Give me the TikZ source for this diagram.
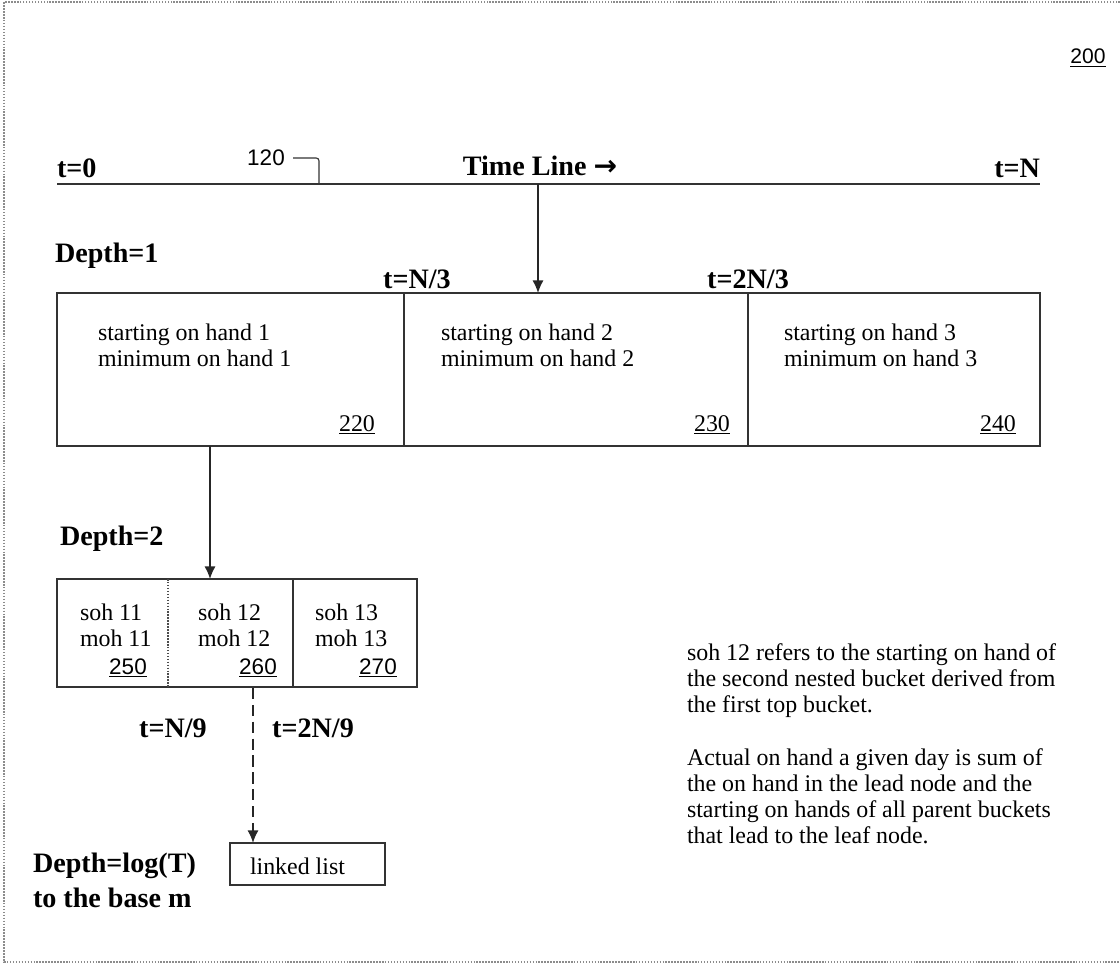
\documentclass[tikz,border=0pt]{standalone}
\usepackage{fontspec}
\setmainfont{Liberation Serif}
\setsansfont{Liberation Sans}
\newfontfamily\arrowfont{DejaVu Sans}
\usetikzlibrary{arrows.meta}

\begin{document}
\begin{tikzpicture}[
    x=0.025cm, y=-0.025cm,
    line width=1.1pt,
    every node/.style={inner sep=0pt, outer sep=0pt},
    body/.style={font=\fontsize{17}{18.5}\selectfont, align=left},
    bold/.style={font=\fontsize{20}{25}\selectfont\bfseries, align=left},
    refnum/.style={font=\fontsize{17}{18}\selectfont},
    sansnum/.style={font=\sffamily\fontsize{16}{18}\selectfont},
    cell/.style={draw=black!80, anchor=north west, minimum height=3.825cm},
    subcell/.style={anchor=north west, minimum height=2.7cm},
    arr/.style={-{Latex[length=9pt,width=8pt]}, draw=black!85},
  ]
  \useasboundingbox (0,0) rectangle (1120,970);

  % --- page frame ---
  \draw[black!45, densely dotted] (1120,2) -- (4,2) -- (4,962) -- (1120,962);
  \node[sansnum, font=\sffamily\fontsize{15}{16}\selectfont] (n200) at (1088,58) {\underline{200}};

  % --- time line ---
  \coordinate (tl0) at (57,184);
  \coordinate (tlN) at (1040,184);
  \coordinate (tlarr) at (538,184);
  \coordinate (hook) at (319,184);
  \draw[black!80] (tl0) -- (tlN);
  \node[bold, anchor=west] (t0) at (57,168) {t=0};
  \node[bold, anchor=east] (tN) at (1040,168) {t=N};
  \node[bold] (tline) at (540,166) {Time Line {\arrowfont →}};
  \node[sansnum] (n120) at (266,158) {120};
  \draw[black!80, line width=0.8pt, rounded corners=2pt] ([xshift=6pt]n120.east) -| (hook);

  % --- depth 1 ---
  \node[bold, anchor=west] (d1) at (55,256) {Depth=1};
  \node[cell, minimum width=8.675cm] (b220) at (57,293) {};
  \node[cell, minimum width=8.6cm] (b230) at (404,293) {};
  \node[cell, minimum width=7.3cm] (b240) at (748,293) {};
  \node[bold] (tn3) at (417,279) {t=N/3};
  \node[bold] (t2n3) at (748,279) {t=2N/3};
  \node[body, anchor=west] (s1) at (98,345) {starting on hand 1\\minimum on hand 1};
  \node[body, anchor=west] (s2) at (441,345) {starting on hand 2\\minimum on hand 2};
  \node[body, anchor=west] (s3) at (784,345) {starting on hand 3\\minimum on hand 3};
  \node[refnum] (r220) at (357,425) {\underline{220}};
  \node[refnum] (r230) at (712,425) {\underline{230}};
  \node[refnum] (r240) at (998,425) {\underline{240}};
  \draw[arr] (tlarr) -- (tlarr |- b230.north);

  % --- depth 2 ---
  \node[bold, anchor=west] (d2) at (60,539) {Depth=2};
  \node[subcell, minimum width=2.775cm] (b250) at (57,579) {};
  \node[subcell, minimum width=3.125cm] (b260) at (168,579) {};
  \node[subcell, minimum width=3.1cm] (b270) at (293,579) {};
  \draw[black!80] (b250.north west) rectangle (b270.south east);
  \draw[black!70, densely dotted] (b260.north west) -- (b260.south west);
  \draw[black!80] (b270.north west) -- (b270.south west);
  \node[body, anchor=west] (s11) at (80,625) {soh 11\\moh 11};
  \node[body, anchor=west] (s12) at (198,625) {soh 12\\moh 12};
  \node[body, anchor=west] (s13) at (315,625) {soh 13\\moh 13};
  \node[sansnum] (r250) at (128,668) {\underline{250}};
  \node[sansnum] (r260) at (258,668) {\underline{260}};
  \node[sansnum] (r270) at (378,668) {\underline{270}};
  \coordinate (a1) at (210,446);
  \draw[arr] (a1) -- (a1 |- b260.north);

  % --- leaf level ---
  \node[bold] (tn9) at (173,728) {t=N/9};
  \node[bold] (t2n9) at (313,728) {t=2N/9};
  \node[draw=black!80, anchor=north west, minimum width=3.875cm, minimum height=1.05cm] (ll) at (230,843) {};
  \node[body, anchor=west] (lltxt) at (250,866) {linked list};
  \node[bold, anchor=west] (dlog) at (33,880) {Depth=log(T)\\to the base m};
  \coordinate (a2) at (253,688);
  \draw[arr, line width=1.4pt, dash pattern=on 8pt off 4pt] (a2) -- (a2 |- ll.north);

  % --- notes ---
  \node[body, anchor=west] (note1) at (687,681) {soh 12 refers to the starting on hand of\\the second nested bucket derived from\\the first top bucket.};
  \node[body, anchor=west] (note2) at (687,796) {Actual on hand a given day is sum of\\the on hand in the lead node and the\\starting on hands of all parent buckets\\that lead to the leaf node.};
\end{tikzpicture}
\end{document}
